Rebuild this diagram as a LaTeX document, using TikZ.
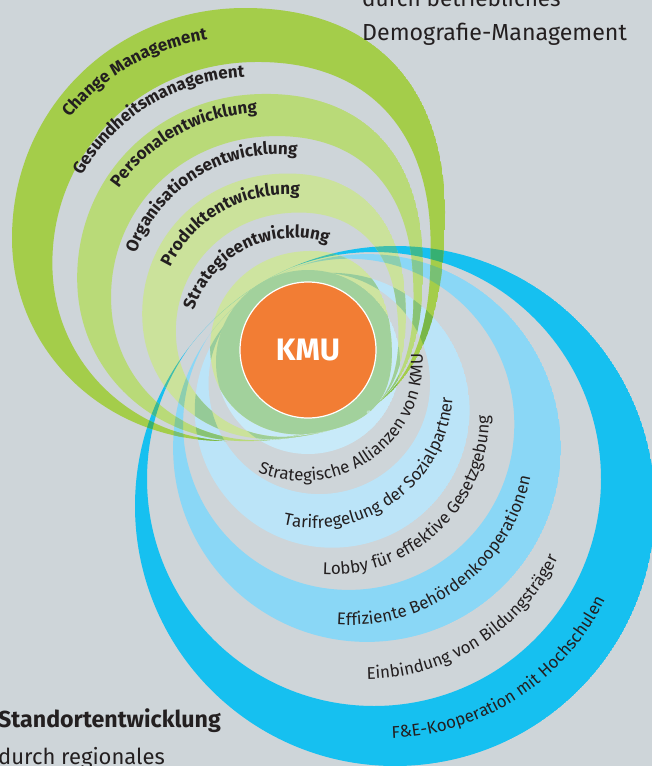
\documentclass[tikz,border=0pt]{standalone}
\usepackage{fontspec}
\setmainfont{Fira Sans}
\usetikzlibrary{calc,decorations.text}
\definecolor{bgc}{RGB}{206,213,217}
\definecolor{txt}{RGB}{35,31,32}
\definecolor{kmu}{RGB}{242,125,52}
\definecolor{G1}{RGB}{164,205,74}
\definecolor{G2}{RGB}{185,218,120}
\definecolor{G3}{RGB}{203,226,155}
\definecolor{G4}{RGB}{206,228,160}
\definecolor{B1}{RGB}{22,192,240}
\definecolor{B2}{RGB}{138,215,246}
\definecolor{B3}{RGB}{187,228,248}
\definecolor{B4}{RGB}{200,234,249}
\definecolor{GB11}{RGB}{54,176,114}
\definecolor{GB12}{RGB}{120,192,116}
\definecolor{GB13}{RGB}{120,183,72}
\definecolor{GB14}{RGB}{129,188,72}
\definecolor{GB21}{RGB}{60,185,147}
\definecolor{GB22}{RGB}{131,200,150}
\definecolor{GB23}{RGB}{136,195,117}
\definecolor{GB24}{RGB}{145,200,117}
\definecolor{GB31}{RGB}{65,190,172}
\definecolor{GB32}{RGB}{140,206,175}
\definecolor{GB33}{RGB}{149,202,151}
\definecolor{GB34}{RGB}{159,207,151}
\definecolor{GB41}{RGB}{66,191,176}
\definecolor{GB42}{RGB}{142,207,179}
\definecolor{GB43}{RGB}{151,204,156}
\definecolor{GB44}{RGB}{162,209,156}
% green shapes: scaled (#2) and rotated (#3) copies of the outer shape about F
\newcommand\GP[3]{($(F)!#2!#3:(#1)$)}
\newcommand\gfwd[2]{\GP{gL}{#1}{#2} .. controls \GP{gLa}{#1}{#2} and \GP{gTa}{#1}{#2} .. \GP{gT}{#1}{#2} .. controls \GP{gTb}{#1}{#2} and \GP{gRa}{#1}{#2} .. \GP{gR}{#1}{#2} .. controls \GP{gRb}{#1}{#2} and \GP{gBa}{#1}{#2} .. \GP{gB}{#1}{#2} .. controls \GP{gBb}{#1}{#2} and \GP{gLb}{#1}{#2} .. cycle}
\newcommand\grev[2]{\GP{gL}{#1}{#2} .. controls \GP{gLb}{#1}{#2} and \GP{gBb}{#1}{#2} .. \GP{gB}{#1}{#2} .. controls \GP{gBa}{#1}{#2} and \GP{gRb}{#1}{#2} .. \GP{gR}{#1}{#2} .. controls \GP{gRa}{#1}{#2} and \GP{gTb}{#1}{#2} .. \GP{gT}{#1}{#2} .. controls \GP{gTa}{#1}{#2} and \GP{gLa}{#1}{#2} .. cycle}
% blue shapes: circles
\newcommand\cfwd[3]{(#1,#2) circle[radius=#3]}
\newcommand\crev[3]{(#1,#2) ++(#3,0) arc[start angle=0,end angle=-360,radius=#3]}
\newcommand\gfont{\bfseries\fontsize{17}{17}\selectfont}
\newcommand\bfont{\fontsize{17}{17}\selectfont}
\tikzset{
  glabel/.style={decorate,decoration={text along path,text color=txt,text align=center,text={|\gfont|#1}}},
  blabel/.style={decorate,decoration={text along path,text color=txt,text align=center,text={|\bfont|#1}}},
  corner/.style={anchor=base west,text=txt,font=\fontsize{22.5}{22.5}\selectfont,inner sep=0pt}
}
\begin{document}
\begin{tikzpicture}[x=1pt,y=-1pt]
\useasboundingbox (0,0) rectangle (652,766);
\clip (0,0) rectangle (652,766);
\fill[bgc] (0,0) rectangle (652,766);
% green key points
\coordinate (F) at (370,414);
\coordinate (gL) at (12,238);
\coordinate (gT) at (245,8);
\coordinate (gR) at (445,212);
\coordinate (gB) at (225,441);
\coordinate (gLa) at (12,109.2);
\coordinate (gTa) at (114.5,8);
\coordinate (gTb) at (371,8);
\coordinate (gRa) at (445,83.5);
\coordinate (gRb) at (445,376.9);
\coordinate (gBa) at (383.4,441);
\coordinate (gBb) at (105.7,441);
\coordinate (gLb) at (12,351.7);
% blue bands
\foreach \cc/\ax/\ay/\ar/\bx/\by/\br in {B1/395/506/260/374/479/227,B2/367/448/193.9/348.7/424.3/165.6,B3/332.2/410.3/137.4/319.3/383.3/110.8,B4/308/362/92/0/0/1}{
  \begin{scope}\clip \cfwd{\ax}{\ay}{\ar}; \fill[\cc] \cfwd{\ax}{\ay}{\ar} \crev{\bx}{\by}{\br};\end{scope}}
% green bands
\foreach \cc/\so/\po/\si/\pi in {G1/1/0/0.875/1.66,G2/0.80/2.66/0.70/3.99,G3/0.61/5.19/0.515/6.45,G4/0.42/7.71/0.01/0}{
  \begin{scope}\clip \gfwd{\so}{\po}; \fill[\cc] \gfwd{\so}{\po} \grev{\si}{\pi};\end{scope}}
% overlaps
\foreach \ii/\so/\po/\si/\pi in {1/1/0/0.875/1.66,2/0.80/2.66/0.70/3.99,3/0.61/5.19/0.515/6.45,4/0.42/7.71/0.01/0}{
  \foreach \jj/\ax/\ay/\ar/\bx/\by/\br in {1/395/506/260/374/479/227,2/367/448/193.9/348.7/424.3/165.6,3/332.2/410.3/137.4/319.3/383.3/110.8,4/308/362/92/0/0/1}{
    \begin{scope}
      \clip \gfwd{\so}{\po};
      \clip \gfwd{\so}{\po} \grev{\si}{\pi};
      \clip \cfwd{\ax}{\ay}{\ar};
      \fill[GB\ii\jj] \cfwd{\ax}{\ay}{\ar} \crev{\bx}{\by}{\br};
    \end{scope}}}
% KMU
\node[circle,fill=kmu,draw=white,line width=1.2pt,minimum size=136pt,inner sep=0pt,
      text=white,font=\bfseries\fontsize{31}{31}\selectfont] (kmu) at (308,350) {KMU};
% green labels
\path[glabel={Change Management}] ($(239.1,256.5)+(200.5:219)$) arc[start angle=200.5,end angle=280.5,radius=219];
\path[glabel={Gesundheitsmanagement}] ($(253,274.7)+(193.8:198)$) arc[start angle=193.8,end angle=283.8,radius=198];
\path[glabel={Personalentwicklung}] ($(263.7,289.8)+(199.45:177)$) arc[start angle=199.45,end angle=283.45,radius=177];
\path[glabel={Organisationsentwicklung}] ($(277.7,305.2)+(183.75:151)$) arc[start angle=183.75,end angle=293.75,radius=151];
\path[glabel={Produktentwicklung}] ($(286.4,323.8)+(185.8:129)$) arc[start angle=185.8,end angle=295.8,radius=129];
\path[glabel={Strategieentwicklung}] ($(293.6,342.8)+(178.6:105)$) arc[start angle=178.6,end angle=308.6,radius=105];
% blue labels
\path[blabel={Strategische Allianzen von KMU}] ($(303,361.5)+(134.2:119.7)$) arc[start angle=134.2,end angle=-25.8,radius=119.7];
\path[blabel={Tarifregelung der Sozialpartner}] ($(314.2,389.5)+(123.15:138.6)$) arc[start angle=123.15,end angle=-16.85,radius=138.6];
\path[blabel={Lobby für effektive Gesetzgebung}] ($(331.6,416.8)+(111.45:157.5)$) arc[start angle=111.45,end angle=-18.55,radius=157.5];
\path[blabel={Effiziente Behördenkooperationen}] ($(349.4,440.1)+(107.75:185)$) arc[start angle=107.75,end angle=-2.25,radius=185];
\path[blabel={Einbindung von Bildungsträger}] ($(364.8,464)+(107.7:215)$) arc[start angle=107.7,end angle=7.7,radius=215];
\path[blabel={F{\&}E-Kooperation mit Hochschulen}] ($(383.3,491.2)+(102.1:247)$) arc[start angle=102.1,end angle=12.1,radius=247];
% corner texts
\node[corner] (tr1) at (362,6) {durch betriebliches};
\node[corner,font=\fontsize{23.2}{23.2}\selectfont] (tr2) at (362,40) {Demografie-Management};
\node[corner,font=\bfseries\fontsize{23.2}{23.2}\selectfont] (bl1) at (-2,727) {Standortentwicklung};
\node[corner,font=\fontsize{22}{22}\selectfont] (bl2) at (-2,764) {durch regionales};
\end{tikzpicture}
\end{document}
